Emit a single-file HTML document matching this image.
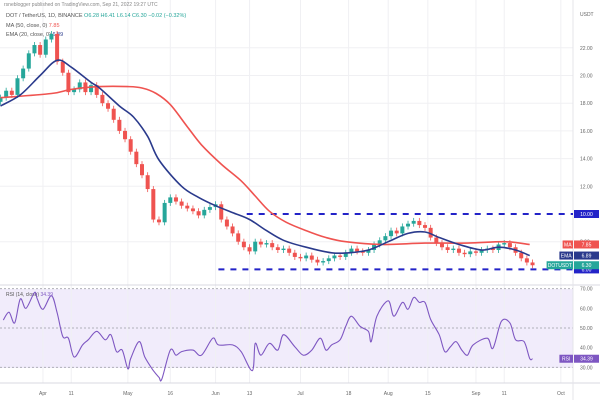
<!DOCTYPE html>
<html><head><meta charset="utf-8"><style>
body{margin:0;background:#fff;font-family:"Liberation Sans",sans-serif}
svg{display:block}
</style></head><body>
<svg id="chart" width="600" height="400" viewBox="0 0 600 400" xmlns="http://www.w3.org/2000/svg" font-family="Liberation Sans, sans-serif">
<rect width="600" height="400" fill="#fff"/>
<rect x="0" y="289" width="573" height="79" fill="#f1ecfb"/>
<g id="grid"></g>
<line x1="0" y1="285" x2="600" y2="285" stroke="#d8d8e0" stroke-width="1"/>
<line x1="0" y1="383" x2="600" y2="383" stroke="#d8d8e0" stroke-width="1"/>
<line x1="573" y1="0" x2="573" y2="400" stroke="#e4e4ea" stroke-width="1"/>
<text x="4" y="6" font-size="5" fill="#888">rsneblogger published on TradingView.com, Sep 21, 2022 19:27 UTC</text>
<text x="6" y="17" font-size="5.5" fill="#555">DOT / TetherUS, 1D, BINANCE <tspan fill="#26a69a">O6.28 H6.41 L6.14 C6.30 −0.02 (−0.32%)</tspan></text>
<text x="6" y="27" font-size="5.5" fill="#555">MA (50, close, 0) <tspan fill="#ef5350">7.85</tspan></text>
<text x="6" y="36" font-size="5.5" fill="#555">EMA (20, close, 0) <tspan fill="#2a3a8c">6.89</tspan></text>
<text x="6" y="296" font-size="5" fill="#555">RSI (14, close) <tspan fill="#7e57c2">34.39</tspan></text>
<text x="580" y="16" font-size="5" fill="#666">USDT</text>
<g id="levels"></g>
<g id="candles"></g>
<g id="lines"></g>
<g id="axes"></g>
</svg>
<script>
const days = [0,2,4,6,8,10,12,14,16,18,20,22,24,26,28,30,32,34,36,38,40,42,44,46,48,50,52,54,56,58,60,62,64,66,68,70,72,74,76,78,80,82,84,86,88,90,92,94,96,98,100,102,104,106,108,110,112,114,116,118,120,122,124,126,128,130,132,134,136,138,140,142,144,146,148,150,152,154,156,158,160,162,164,166,168,170,172,174,176,178,180,182,184,186,188];
const closes = [18.4,18.9,18.6,19.8,20.5,21.6,22.2,21.5,22.6,23.0,21.0,20.2,18.8,19.0,19.5,18.8,19.3,18.6,18.0,17.6,16.8,16.0,15.4,14.5,13.6,12.8,11.8,9.6,9.4,10.8,11.2,10.9,10.6,10.4,10.2,9.9,10.3,10.5,10.7,9.6,9.1,8.6,8.0,7.6,7.3,8.0,7.8,7.9,7.6,7.4,7.5,7.2,6.9,6.8,7.0,6.7,6.5,6.6,6.8,7.0,6.9,7.2,7.5,7.3,7.2,7.4,7.8,8.1,8.4,8.8,8.6,9.1,9.3,9.5,9.2,9.0,8.3,7.9,7.6,7.4,7.5,7.2,7.1,7.3,7.2,7.4,7.5,7.4,7.8,7.9,7.6,7.2,6.8,6.5,6.3];
const maDays = [0,18,25,35,45,50,55,60,66,71,78,85,90,95,101,108,115,122,135,150,165,178,187];
const maVals = [18.4,18.7,19.0,19.2,19.2,19.1,18.7,17.9,16.3,15.0,13.6,12.4,11.3,10.2,9.4,8.8,8.3,8.0,7.8,7.9,7.9,8.0,7.8];
const emaDays = [0,7,14,20,25,32,35,42,47,52,56,64,70,76,82,88,94,100,108,117,123,130,137,144,150,155,162,170,176,182,187];
const emaVals = [17.8,18.6,20.0,21.1,20.6,19.5,19.1,17.8,17.0,15.6,13.9,12.0,11.2,10.6,10.1,9.6,8.8,8.1,7.6,7.2,7.2,7.4,8.0,8.6,8.7,8.3,7.8,7.4,7.6,7.4,7.0];
const rsiDays = [1,3,5,7,9,12,13,15,18,20,22,24,26,29,31,34,37,39,41,43,45,46,49,51,54,56,57,60,62,64,68,71,75,77,82,85,89,90,92,95,98,100,104,107,110,113,115,117,120,122,124,127,130,131,133,137,139,142,144,146,148,150,152,155,157,159,161,163,165,167,172,174,177,180,182,185,187,188];
const rsiVals = [54,58,52.6,64.7,60,68,64.7,59.5,66.4,57.8,45.7,44.8,35.3,41.4,44,48.3,44,46.6,38,38.8,29.3,34.5,43.1,35.3,28.4,25,24,38.8,36.2,38,38.8,36.2,44.8,41.4,41.4,38,28.4,42.2,36.2,42.2,38.8,46.6,40.5,36.2,38.8,44.8,38.8,41.4,44,50.9,56,50.9,48.3,43.1,56,63.8,56,63,59.5,65.5,63,63,54.3,46.6,38,40.5,43.1,38.8,36.2,41.4,44.8,39.7,53.4,52.6,44,43.1,34.5,34.4];
const priceTicks = [22,20,18,16,14,12,8];
const rsiTicks = [70,60,50,40,30];
const dateLabels = ["Apr","11","May","16","Jun","13","Jul","18","Aug","15","Sep","11","Oct"];
const dateDays = [15,25,45,60,76,88,106,123,137,151,168,178,198];
const levelVals = [10.0,6.0];
const levelStartDays = [87,77];

const NS="http://www.w3.org/2000/svg";
const X = d => 0.5 + d*2.83;
const Y = p => 214 - (p-10)*13.85;
const RY = r => 328 - (r-50)*1.97;
function mk(tag, attrs, parent){const e=document.createElementNS(NS,tag);for(const k in attrs)e.setAttribute(k,attrs[k]);parent.appendChild(e);return e;}
const gGrid=document.getElementById('grid'),gC=document.getElementById('candles'),gL=document.getElementById('lines'),gA=document.getElementById('axes'),gLv=document.getElementById('levels');

priceTicks.forEach(p=>{
  const l=mk('line',{x1:0,x2:573,y1:Y(p),y2:Y(p),stroke:'#f0f0f3'},gGrid);
  
  
  const t=mk('text',{x:580,y:Y(p)+2,'font-size':5,fill:'#666'},gA);
  t.textContent=p.toFixed(2);
  
  
});
dateDays.forEach((d,i)=>{
  const l=mk('line',{x1:X(d),x2:X(d),y1:0,y2:383,stroke:'#f0f0f3'},gGrid);
  
  
  const t=mk('text',{x:X(d),y:395,'font-size':5,fill:'#666','text-anchor':'middle'},gA);
  t.textContent=dateLabels[i];
  
  
});
rsiTicks.forEach(r=>{
  if(r===70||r===50||r===30){
    const l=mk('line',{x1:0,x2:573,y1:RY(r),y2:RY(r),stroke:'#b0b0b8','stroke-dasharray':'2,2'},gGrid);
    
    
  }
  const t=mk('text',{x:580,y:RY(r)+2,'font-size':5,fill:'#666'},gA);
  t.textContent=r.toFixed(2);
  
  
});
levelVals.forEach((v,i)=>{
  const l=mk('line',{x1:X(levelStartDays[i]),x2:573,y1:Y(v),y2:Y(v),stroke:'#2323c8','stroke-width':2,'stroke-dasharray':'6,6'},gLv);
  
  
  const r=mk('rect',{x:574,y:Y(v)-4,width:25,height:8,fill:'#2323c8'},gLv);
  
  
  const t=mk('text',{x:586.5,y:Y(v)+2,'font-size':5,fill:'#fff','text-anchor':'middle'},gLv);
  t.textContent=v.toFixed(2);
  
  
});
days.forEach((d,i)=>{
  const o = i===0 ? closes[0]-0.3 : closes[i-1];
  const c = closes[i];
  const col = c>=o ? '#26a69a' : '#ef5350';
  const x=X(d), y1=Y(Math.max(o,c)), y2=Y(Math.min(o,c));
  const w=mk('line',{x1:x,x2:x,y1:y1-3,y2:y2+3,stroke:col,'stroke-width':0.8},gC);
  
  
  const b=mk('rect',{x:x-2,y:y1,width:4,height:Math.max(1.2,y2-y1),fill:col},gC);
  
  
});
function path(ds,vs,fy){
  const p=ds.map((d,i)=>[X(d),fy(vs[i])]);
  let s='M'+p[0][0].toFixed(1)+' '+p[0][1].toFixed(1);
  for(let i=0;i<p.length-1;i++){
    const p0=p[Math.max(0,i-1)],p1=p[i],p2=p[i+1],p3=p[Math.min(p.length-1,i+2)];
    const c1x=p1[0]+(p2[0]-p0[0])/6,c1y=p1[1]+(p2[1]-p0[1])/6;
    const c2x=p2[0]-(p3[0]-p1[0])/6,c2y=p2[1]-(p3[1]-p1[1])/6;
    s+=' C'+c1x.toFixed(1)+' '+c1y.toFixed(1)+' '+c2x.toFixed(1)+' '+c2y.toFixed(1)+' '+p2[0].toFixed(1)+' '+p2[1].toFixed(1);
  }
  return s;
}
const ma=mk('path',{d:path(maDays,maVals,Y),fill:'none',stroke:'#ef5350','stroke-width':1.6,'stroke-linejoin':'round'},gL);


const ema=mk('path',{d:path(emaDays,emaVals,Y),fill:'none',stroke:'#2a3a8c','stroke-width':1.6,'stroke-linejoin':'round'},gL);


const rsi=mk('path',{d:path(rsiDays,rsiVals,RY),fill:'none',stroke:'#7e57c2','stroke-width':1.1,'stroke-linejoin':'round'},gL);



const tags=[['MA','7.85','#ef5350',Y(maVals[maVals.length-1])],['EMA','6.89','#2a3a8c',Y(emaVals[emaVals.length-1])],['DOTUSDT','6.30','#26a69a',Y(closes[closes.length-1])],['RSI','34.39','#7e57c2',RY(rsiVals[rsiVals.length-1])]];
tags.forEach(t=>{
  const lw=t[0].length*3.2+4;
  const r1=mk('rect',{x:573-lw,y:t[3]-4,width:lw,height:8,fill:t[2]},gA);
  
  
  const r2=mk('rect',{x:574,y:t[3]-4,width:25,height:8,fill:t[2]},gA);
  
  
  const a=mk('text',{x:573-lw/2,y:t[3]+2,'font-size':5,fill:'#fff','text-anchor':'middle'},gA);
  a.textContent=t[0];
  
  
  const b=mk('text',{x:586.5,y:t[3]+2,'font-size':5,fill:'#fff','text-anchor':'middle'},gA);
  b.textContent=t[1];
  
  
});
</script>
</body></html>
